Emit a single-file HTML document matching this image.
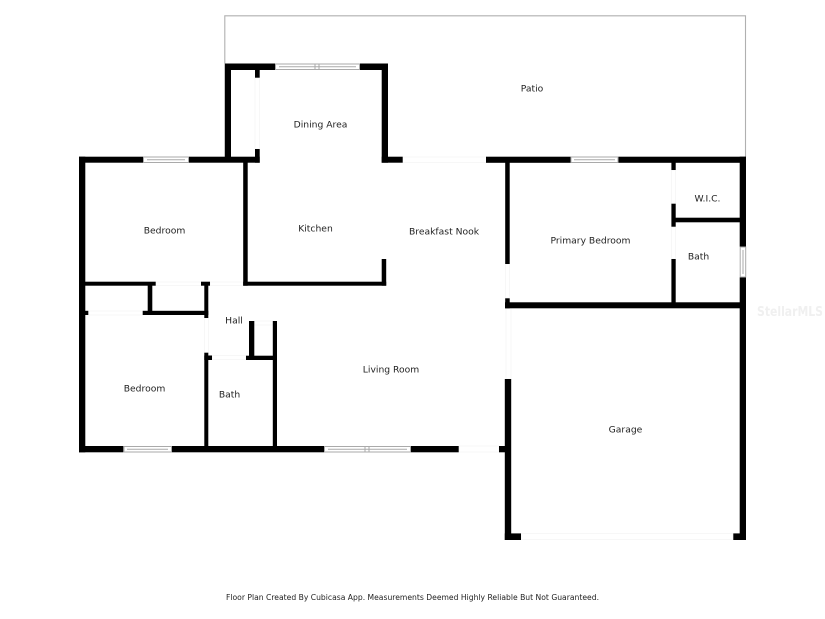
<!DOCTYPE html>
<html>
<head>
<meta charset="utf-8">
<style>
html,body{margin:0;padding:0;background:#fff;width:825px;height:619px;overflow:hidden}
svg{display:block}
text{font-family:"DejaVu Sans",sans-serif;font-size:9.2px;fill:#222;text-anchor:middle}
.w{fill:#000}
.d{fill:none;stroke:#f7f7f7;stroke-width:1}
.win{fill:#fff;stroke:#aaa;stroke-width:1}
.in{stroke:#aaa;stroke-width:1}
</style>
</head>
<body>
<svg width="825" height="619" viewBox="0 0 825 619" xmlns="http://www.w3.org/2000/svg">
<rect width="825" height="619" fill="#fff"/>
<path d="M224.8 157V15.8H745.5V157" fill="none" stroke="#b0b0b0" stroke-width="1.1"/>

<g class="d">
<rect x="402.5" y="157" width="84" height="5.5"/>
<rect x="88" y="311" width="55" height="4"/>
<rect x="155.5" y="282" width="46" height="3.5"/>
<rect x="210" y="282" width="33" height="3.5"/>
<rect x="204.5" y="318" width="4" height="35"/>
<rect x="212" y="355.5" width="34" height="4"/>
<rect x="254" y="321" width="19" height="4"/>
<rect x="505.5" y="264" width="4" height="34"/>
<rect x="506" y="308" width="5" height="71"/>
<rect x="459" y="446" width="40" height="6"/>
<rect x="521" y="533.5" width="212" height="6"/>
<rect x="671.5" y="170" width="4" height="34"/>
<rect x="671.5" y="227" width="4" height="32"/>
<rect x="255" y="78" width="4.5" height="71"/>
</g>

<g class="w">
<rect x="79" y="156.7" width="64.3" height="6"/>
<rect x="188.3" y="156.7" width="71.4" height="6"/>
<rect x="79" y="156.7" width="6.3" height="295.6"/>
<rect x="79" y="446" width="44.3" height="6.3"/>
<rect x="171.7" y="446" width="152.3" height="6.3"/>
<rect x="410.7" y="446" width="48" height="6.3"/>
<rect x="499" y="446" width="9" height="6.3"/>
<rect x="225" y="63.5" width="6" height="99"/>
<rect x="225" y="63.5" width="50" height="6.5"/>
<rect x="360" y="63.5" width="28" height="6.5"/>
<rect x="381.7" y="63.5" width="6.3" height="99.2"/>
<rect x="381.7" y="156.7" width="21" height="6"/>
<rect x="255" y="68" width="4.7" height="9.7"/>
<rect x="255" y="149" width="4.7" height="13.7"/>
<rect x="243.2" y="160" width="4.5" height="125.7"/>
<rect x="243.2" y="281.7" width="143" height="4"/>
<rect x="381.7" y="259" width="4.5" height="26.7"/>
<rect x="85" y="281.7" width="70.7" height="4"/>
<rect x="147.7" y="283" width="4.6" height="32"/>
<rect x="142.7" y="310.8" width="65.6" height="4.2"/>
<rect x="85" y="310.8" width="3.3" height="4.2"/>
<rect x="201" y="281.7" width="9" height="4"/>
<rect x="204.3" y="283" width="4" height="35"/>
<rect x="204.3" y="352.7" width="4" height="95"/>
<rect x="204.3" y="355.5" width="7.7" height="4.5"/>
<rect x="249" y="321" width="5.3" height="38"/>
<rect x="246" y="355.7" width="31" height="4.3"/>
<rect x="272.8" y="321" width="4.2" height="127"/>
<rect x="486" y="156.7" width="84.7" height="6.1"/>
<rect x="618.3" y="156.7" width="127.7" height="6.1"/>
<rect x="505.2" y="160" width="4.5" height="104"/>
<rect x="505.2" y="298.3" width="4.5" height="10"/>
<rect x="505" y="302.3" width="241" height="6"/>
<rect x="739.7" y="156.7" width="6.3" height="90"/>
<rect x="739.7" y="277.3" width="6.3" height="262.7"/>
<rect x="671.4" y="160" width="4.3" height="10"/>
<rect x="671.4" y="203.7" width="4.3" height="23"/>
<rect x="671.4" y="259" width="4.3" height="45"/>
<rect x="674" y="217.7" width="67" height="4.6"/>
<rect x="504.8" y="379" width="6.4" height="161"/>
<rect x="504.8" y="533.4" width="16.2" height="6.6"/>
<rect x="733.3" y="533.4" width="12.7" height="6.6"/>
</g>

<g>
<rect class="win" x="143.5" y="157" width="45" height="5.5"/>
<line class="in" x1="147" y1="159.7" x2="185" y2="159.7"/>
<rect class="win" x="275.5" y="64" width="84" height="5.5"/>
<line class="in" x1="279" y1="66.7" x2="356" y2="66.7"/>
<line class="in" x1="315" y1="64" x2="315" y2="69.5"/>
<line class="in" x1="319" y1="64" x2="319" y2="69.5"/>
<rect class="win" x="571" y="157" width="47" height="5.5"/>
<line class="in" x1="574" y1="159.7" x2="615" y2="159.7"/>
<rect class="win" x="740.2" y="247" width="5.5" height="30"/>
<line class="in" x1="743" y1="250" x2="743" y2="274"/>
<rect class="win" x="124" y="446.5" width="47.5" height="5.5"/>
<line class="in" x1="127" y1="449.2" x2="168" y2="449.2"/>
<rect class="win" x="324.5" y="446.5" width="86" height="5.5"/>
<line class="in" x1="328" y1="449.2" x2="407" y2="449.2"/>
<line class="in" x1="365" y1="446.5" x2="365" y2="452"/>
<line class="in" x1="369" y1="446.5" x2="369" y2="452"/>
</g>

<text x="532" y="91.5">Patio</text>
<text x="320.5" y="127.5">Dining Area</text>
<text x="315.5" y="231.5">Kitchen</text>
<text x="444" y="234.5">Breakfast Nook</text>
<text x="164.5" y="233.5">Bedroom</text>
<text x="590.5" y="243.5">Primary Bedroom</text>
<text x="707.5" y="201.5">W.I.C.</text>
<text x="698.5" y="259.5">Bath</text>
<text x="234" y="323.5">Hall</text>
<text x="391" y="372.5">Living Room</text>
<text x="144.5" y="391.5">Bedroom</text>
<text x="229.5" y="397.5">Bath</text>
<text x="625.5" y="432.5">Garage</text>
<text x="412.5" y="600" style="font-size:8px" textLength="373" lengthAdjust="spacingAndGlyphs">Floor Plan Created By Cubicasa App. Measurements Deemed Highly Reliable But Not Guaranteed.</text>
<text x="790" y="316" style="font-size:13px;font-weight:bold;fill:#f0f0f0" textLength="66" lengthAdjust="spacingAndGlyphs">StellarMLS</text>
</svg>
</body>
</html>
